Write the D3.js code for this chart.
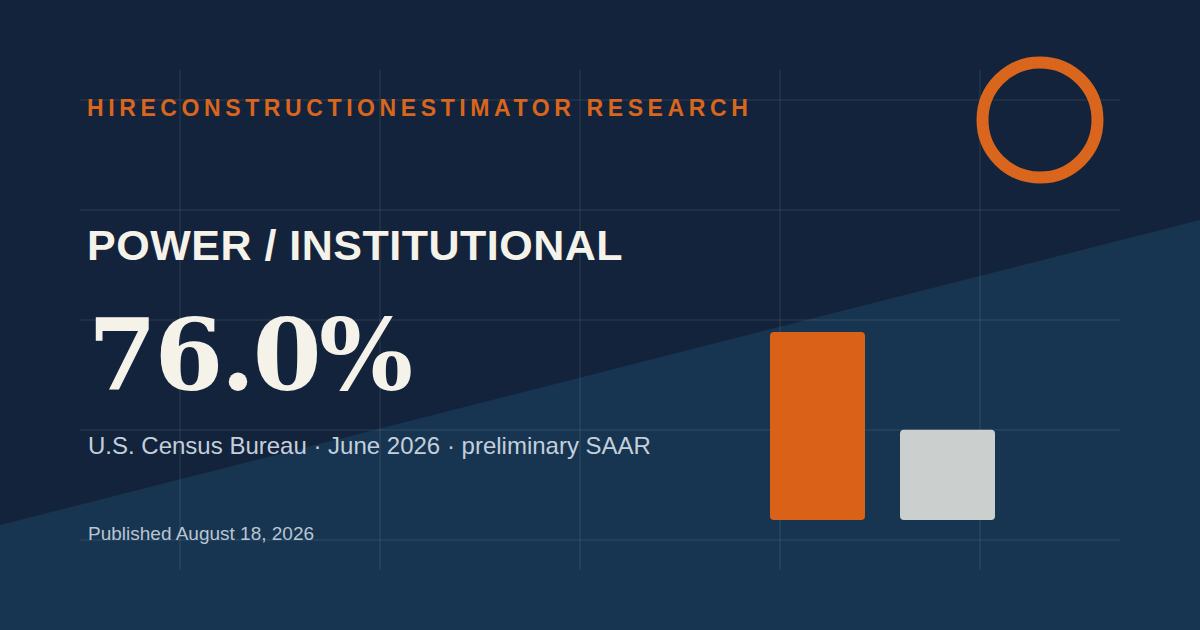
<!DOCTYPE html>
<html>
<head>
<meta charset="utf-8">
<script src="https://cdn.jsdelivr.net/npm/d3@7"></script>
<style>
  html, body { margin: 0; padding: 0; background: #13233b; }
  svg { display: block; }
</style>
</head>
<body>
<div id="chart"></div>
<script>
// ---- data ----
const kicker = "HIRECONSTRUCTIONESTIMATOR RESEARCH";
const title = "POWER / INSTITUTIONAL";
const headlineValue = 76.0;
const sourceParts = ["U.S. Census Bureau", "June 2026", "preliminary SAAR"];
const published = "Published August 18, 2026";
const barCategories = ["current", "prior"];
const barValues = [100, 48];
const gridCols = [0, 1, 2, 3, 4];
const gridRows = [0, 1, 2, 3, 4];

// ---- layout ----
const W = 1200, H = 630;
const svg = d3.select("#chart").append("svg")
  .attr("width", W).attr("height", H).attr("viewBox", `0 0 ${W} ${H}`);

svg.append("rect").attr("width", W).attr("height", H).attr("fill", "#13233b");

// diagonal lighter panel
svg.append("path")
  .attr("d", d3.line()([[0, 525], [W, 220], [W, H], [0, H]]) + "Z")
  .attr("fill", "#173551");

// grid
const gx = d3.scaleLinear().domain([0, 4]).range([180, 980]);
const gy = d3.scaleLinear().domain([0, 4]).range([100, 540]);
const grid = svg.append("g").attr("stroke", "rgba(255,255,255,0.075)").attr("stroke-width", 1.5);
grid.selectAll("line.v").data(gridCols).join("line")
  .attr("class", "v")
  .attr("x1", d => gx(d)).attr("x2", d => gx(d))
  .attr("y1", 70).attr("y2", 570);
grid.selectAll("line.h").data(gridRows).join("line")
  .attr("class", "h")
  .attr("x1", 80).attr("x2", 1120)
  .attr("y1", d => gy(d)).attr("y2", d => gy(d));

// ring
svg.append("circle")
  .attr("cx", 1040).attr("cy", 120).attr("r", 57.5)
  .attr("fill", "none").attr("stroke", "#d9661c").attr("stroke-width", 12);

// texts
const sans = "'Liberation Sans', Arial, Helvetica, sans-serif";
svg.append("text")
  .attr("x", 87).attr("y", 116)
  .attr("font-family", sans).attr("font-weight", 700).attr("font-size", 23)
  .attr("letter-spacing", "4.6px")
  .attr("fill", "#d9661c")
  .text(kicker);

svg.append("text")
  .attr("x", 87).attr("y", 260)
  .attr("font-family", sans).attr("font-weight", 700).attr("font-size", 43)
  .attr("letter-spacing", "0.5px")
  .attr("fill", "#f5f2ea")
  .text(title);

svg.append("text")
  .attr("x", 88).attr("y", 390)
  .attr("font-family", "'DejaVu Serif', Georgia, serif").attr("font-weight", 700).attr("font-size", 99)
  .attr("letter-spacing", "-2.5px")
  .attr("fill", "#f5f2ea")
  .text(d3.format(".1f")(headlineValue) + "%");

svg.append("text")
  .attr("x", 88).attr("y", 454)
  .attr("font-family", sans).attr("font-size", 24)
  .attr("fill", "#c3cfdc")
  .text(sourceParts.join(" · "));

svg.append("text")
  .attr("x", 88).attr("y", 540)
  .attr("font-family", sans).attr("font-size", 19)
  .attr("fill", "#b9c5d2")
  .text(published);

// bars
const x = d3.scaleBand().domain(barCategories).range([770, 995]).paddingInner(35 / 130).paddingOuter(0);
const y = d3.scaleLinear().domain([0, 100]).range([520, 332]);
const barColors = d3.scaleOrdinal().domain(barCategories).range(["#d96218", "#cbd0cf"]);
svg.append("g").selectAll("rect").data(barValues).join("rect")
  .attr("x", (d, i) => x(barCategories[i]))
  .attr("width", x.bandwidth())
  .attr("y", d => y(d))
  .attr("height", d => y(0) - y(d))
  .attr("rx", 4)
  .attr("fill", (d, i) => barColors(barCategories[i]));
</script>
</body>
</html>
